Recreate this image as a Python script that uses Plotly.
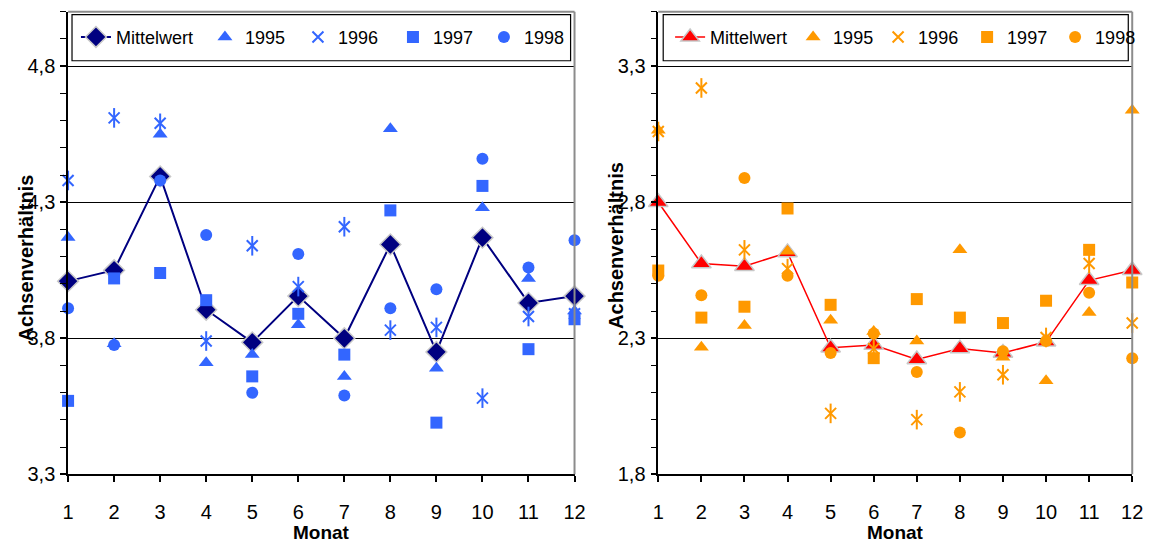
import plotly.graph_objects as go

W, H = 1158, 551

months = list(range(1, 13))
month_labels = [str(m) for m in months]

# Left chart (blue)
left_mean = [4.01, 4.05, 4.395, 3.905, 3.785, 3.955, 3.80, 4.145, 3.75, 4.17, 3.93, 3.955]
left_1995 = [4.17, 3.78, 4.55, 3.71, 3.74, 3.85, 3.66, 4.57, 3.69, 4.28, 4.02, 3.90]
left_1996 = [4.38, 4.61, 4.59, 3.79, 4.14, 3.99, 4.21, 3.83, 3.84, 3.58, 3.88, 3.89]
left_1997 = [3.57, 4.02, 4.04, 3.94, 3.66, 3.89, 3.74, 4.27, 3.49, 4.36, 3.76, 3.87]
left_1998 = [3.91, 3.775, 4.38, 4.18, 3.60, 4.11, 3.59, 3.91, 3.98, 4.46, 4.06, 4.16]

# Right chart (orange)
right_mean = [2.80, 2.575, 2.565, 2.615, 2.265, 2.275, 2.222, 2.262, 2.246, 2.287, 2.513, 2.55]
right_1995 = [3.065, 2.267, 2.347, 2.62, 2.366, 2.325, 2.29, 2.625, 2.23, 2.144, 2.395, 3.138]
right_1996 = [3.06, 3.22, 2.625, 2.556, 2.024, 2.262, 2.001, 2.103, 2.166, 2.303, 2.575, 2.356]
right_1997 = [2.549, 2.376, 2.416, 2.777, 2.423, 2.227, 2.444, 2.376, 2.356, 2.438, 2.625, 2.505]
right_1998 = [2.53, 2.458, 2.889, 2.53, 2.246, 2.318, 2.176, 1.954, 2.252, 2.29, 2.467, 2.227]

FONT = "'Liberation Sans', Arial, sans-serif"

def px_x(x):
    return x / W

def px_y(y):
    return 1 - y / H

fig = go.Figure()

def add_panel(xa, ya, legend, mean, y95, y96, y97, y98, mean_color, mean_symbol,
              mean_size, line_w, year_color, widths):
    fig.add_trace(go.Scatter(
        x=months, y=mean, name="Mittelwert", mode="lines+markers",
        line=dict(color=mean_color, width=line_w),
        marker=dict(symbol=mean_symbol, size=mean_size, color=mean_color,
                    line=dict(color="#c8c8c8", width=1.5)),
        xaxis=xa, yaxis=ya, legend=legend, legendwidth=widths[0], cliponaxis=False))
    fig.add_trace(go.Scatter(
        x=months, y=y95, name="1995", mode="markers",
        marker=dict(symbol="triangle-up", size=13, color=year_color),
        xaxis=xa, yaxis=ya, legend=legend, legendwidth=widths[1], cliponaxis=False))
    fig.add_trace(go.Scatter(
        x=months, y=y96, name="1996", mode="markers", legendgroup=legend + "96",
        marker=dict(symbol="x-thin-open", size=11, color=year_color,
                    line=dict(color=year_color, width=2)),
        xaxis=xa, yaxis=ya, legend=legend, legendwidth=widths[2], cliponaxis=False))
    fig.add_trace(go.Scatter(
        x=months, y=y96, name="1996", mode="markers", legendgroup=legend + "96",
        showlegend=False,
        marker=dict(symbol="line-ns-open", size=14, color=year_color,
                    line=dict(color=year_color, width=2)),
        xaxis=xa, yaxis=ya, legend=legend, cliponaxis=False))
    fig.add_trace(go.Scatter(
        x=months, y=y97, name="1997", mode="markers",
        marker=dict(symbol="square", size=12, color=year_color),
        xaxis=xa, yaxis=ya, legend=legend, legendwidth=widths[3], cliponaxis=False))
    fig.add_trace(go.Scatter(
        x=months, y=y98, name="1998", mode="markers",
        marker=dict(symbol="circle", size=12, color=year_color),
        xaxis=xa, yaxis=ya, legend=legend, legendwidth=widths[4], cliponaxis=False))

add_panel("x", "y", "legend", left_mean, left_1995, left_1996, left_1997, left_1998,
          "#000080", "diamond", 16, 2, "#3366FF", [84, 48, 50, 46, 40])
add_panel("x2", "y2", "legend2", right_mean, right_1995, right_1996, right_1997, right_1998,
          "#FF0000", "triangle-up", 17, 1.5, "#FF9900", [78, 40, 44, 43, 36])

L_x0, L_x1 = 63, 577
R_x0, R_x1 = 662, 1143
TOP, BOT = 12, 484
ydom = [px_y(BOT), px_y(TOP)]

xcommon = dict(range=[1, 12], tickvals=months, ticktext=month_labels,
               ticks="outside", ticklen=6, tickcolor="black", tickwidth=1.5,
               showline=True, linecolor="black", linewidth=1.5,
               showgrid=False, zeroline=False, ticklabelstandoff=13,
               tickfont=dict(family=FONT, size=20, color="black"))

def ycommon(lo, hi):
    return dict(range=[lo, hi], tick0=lo, dtick=0.5, tickformat=".1f",
                ticks="outside", ticklen=6, tickcolor="black", tickwidth=1.5,
                showline=True, linecolor="black", linewidth=1.5,
                showgrid=True, gridcolor="black", gridwidth=1,
                zeroline=False, domain=ydom, ticklabelstandoff=1,
                tickfont=dict(family=FONT, size=20, color="black"),
                minor=dict(dtick=0.1, tick0=lo, ticks="outside", ticklen=6,
                           tickcolor="black", tickwidth=1, showgrid=False))

legend_common = dict(orientation="h", xanchor="left", yanchor="middle",
                     y=px_y(38), bgcolor="rgba(0,0,0,0)", borderwidth=0,
                     entrywidthmode="pixels",
                     font=dict(family=FONT, size=18, color="black"),
                     tracegroupgap=0)

fig.update_layout(
    width=W, height=H,
    margin=dict(l=0, r=0, t=0, b=0),
    paper_bgcolor="white", plot_bgcolor="white",
    separators=",.",
    showlegend=True,
    xaxis=dict(domain=[px_x(L_x0), px_x(L_x1)], anchor="y", **xcommon),
    yaxis=dict(anchor="x", **ycommon(3.3, 5.0)),
    xaxis2=dict(domain=[px_x(R_x0), px_x(R_x1)], anchor="y2", **xcommon),
    yaxis2=dict(anchor="x2", **ycommon(1.8, 3.5)),
    legend=dict(x=px_x(71), **legend_common),
    legend2=dict(x=px_x(674), **legend_common),
)

shapes = []
for x0, x1, lx0, lx1 in [(L_x0, L_x1, 67, 573), (R_x0, R_x1, 667, 1139)]:
    shapes.append(dict(type="line", xref="paper", yref="paper",
                       x0=px_x(x0), x1=px_x(x1), y0=px_y(TOP), y1=px_y(TOP),
                       line=dict(color="#8c8c8c", width=2)))
    shapes.append(dict(type="line", xref="paper", yref="paper",
                       x0=px_x(x1), x1=px_x(x1), y0=px_y(TOP), y1=px_y(BOT),
                       line=dict(color="#8c8c8c", width=2)))
    shapes.append(dict(type="rect", xref="paper", yref="paper",
                       x0=px_x(lx0), x1=px_x(lx1), y0=px_y(15), y1=px_y(62),
                       line=dict(color="black", width=1.2), fillcolor="white",
                       layer="above"))
fig.update_layout(shapes=shapes)

annotations = []
for cx, tx, ty in [(320, 20, 263), (903, 619, 250)]:
    annotations.append(dict(text="<b>Monat</b>", xref="paper", yref="paper",
                            x=px_x(cx), y=px_y(543), xanchor="center", yanchor="middle",
                            showarrow=False, font=dict(family=FONT, size=19, color="black")))
    annotations.append(dict(text="<b>Achsenverhältnis</b>", xref="paper", yref="paper",
                            x=px_x(tx), y=px_y(ty), xanchor="center", yanchor="middle",
                            textangle=-90, showarrow=False,
                            font=dict(family=FONT, size=20, color="black")))
fig.update_layout(annotations=annotations)

fig.write_html("out.html")
